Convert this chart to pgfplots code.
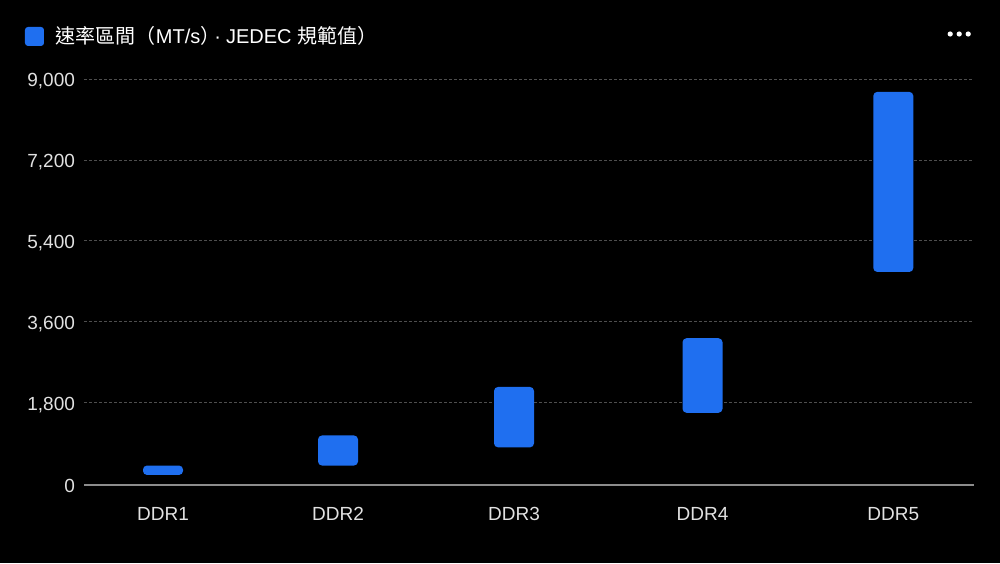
\documentclass[border=0pt]{standalone}
\usepackage{pgfplots}
\pgfplotsset{compat=1.18}
\usepackage{pgfplotstable}
\usepackage{fontspec}
\setmainfont{Liberation Sans}
\newfontfamily\cjk{Noto Sans CJK TC}
\definecolor{barblue}{RGB}{31,111,240}
\definecolor{gridgray}{RGB}{78,78,78}
\definecolor{axisgray}{RGB}{140,140,140}
\definecolor{ticktext}{RGB}{225,225,225}
\pgfplotstableread{
pos   low   high
79    190   400
254   400   1070
430   805   2150
618.5 1575  3235
809.3 4710  8720
}\ddrdata
\begin{document}
\begin{tikzpicture}
\fill[black] (0,0) rectangle (500pt,281.5pt);
\begin{axis}[
  at={(42pt,39.75pt)}, anchor=south west,
  scale only axis, width=445pt, height=202.1pt,
  xmin=0, xmax=890, ymin=0, ymax=9000,
  ybar stacked, bar width=20pt,
  axis x line*=bottom, axis y line*=left,
  x axis line style={draw=axisgray, line width=0.75pt, yshift=-0.75pt},
  y axis line style={draw=none},
  major tick length=0pt,
  xtick={79,254,430,618.5,809.3},
  xticklabels={DDR1,DDR2,DDR3,DDR4,DDR5},
  ytick={1800,3600,5400,7200,9000},
  extra y ticks={0},
  extra y tick style={grid=none},
  yticklabel style={/pgf/number format/1000 sep={,}, xshift=-1pt, yshift=-1pt},
  /pgf/number format/assume math mode=true,
  xticklabel style={yshift=-8.5pt},
  tick label style={font=\fontsize{9.5}{11}\selectfont, text=ticktext},
  ymajorgrids,
  major grid style={draw=gridgray, line width=0.5pt, dash pattern=on 1.5pt off 1pt},
  legend style={at={(rel axis cs:-0.0663,1.106)}, anchor=west, draw=none, fill=none,
    inner sep=0pt, outer sep=0pt, text=white, font=\fontsize{10}{12}\selectfont,
    nodes={inner sep=0pt}},
  legend image code/.code={\fill[barblue, rounded corners=1.5pt] (0pt,-4.75pt) rectangle (9.5pt,4.75pt);},
  legend cell align=left,
  clip=false,
]
\addplot[draw=none, fill=none, forget plot] table[x=pos, y=low] {\ddrdata};
\addplot[fill=barblue, draw=none, rounded corners=2pt] table[x=pos, y expr=\thisrow{high}-\thisrow{low}] {\ddrdata};
\addlegendentry{\hspace{6pt}{\cjk 速率區間（}MT/s{\cjk ）}\hspace{-3pt}·\hspace{2.5pt}JEDEC {\cjk 規範值）}}
\end{axis}
\fill[white] (475.1pt,264.5pt) circle (1.3pt);
\fill[white] (479.6pt,264.5pt) circle (1.3pt);
\fill[white] (484.1pt,264.5pt) circle (1.3pt);
\pgfresetboundingbox
\useasboundingbox (0,0) rectangle (500pt,281.5pt);
\end{tikzpicture}
\end{document}
